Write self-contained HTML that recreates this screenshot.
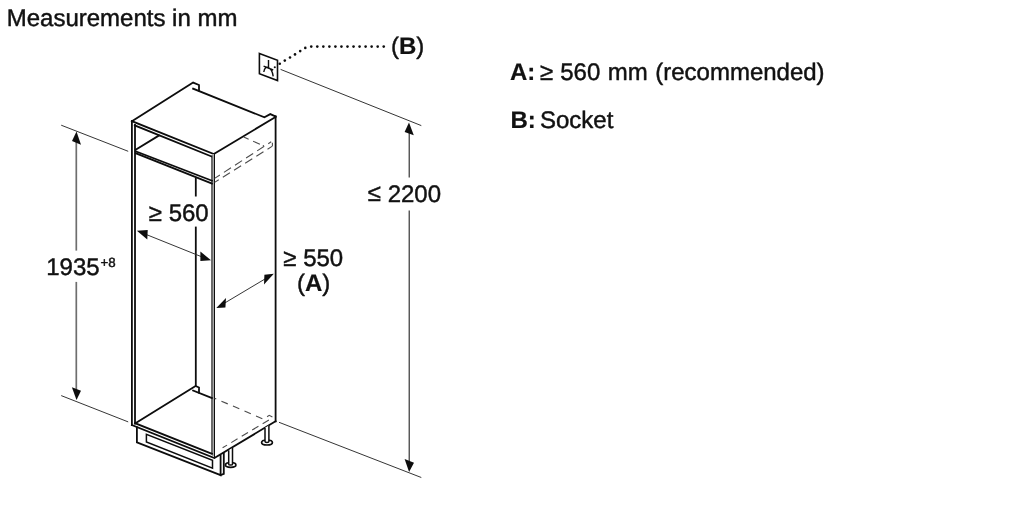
<!DOCTYPE html>
<html><head><meta charset="utf-8"><title>Measurements in mm</title>
<style>
html,body{margin:0;padding:0;background:#fff;}
body{width:1024px;height:512px;overflow:hidden;position:relative;}
svg{will-change:transform;position:absolute;left:0;top:0;display:block;}
text{text-rendering:geometricPrecision;font-family:"Liberation Sans",Arial,Helvetica,sans-serif;font-size:24px;fill:#111;stroke:#111;stroke-width:0.45px;stroke-linejoin:round;}
.b{font-weight:bold;stroke-width:0.2px;}
.m{stroke:#0d0d0d;stroke-width:1.8;fill:none;stroke-linecap:square;stroke-linejoin:miter;}
.t{stroke:#2a2a2a;stroke-width:0.95;fill:none;}
.v{stroke:#6e6e6e;stroke-width:1.7;fill:none;}
.d{stroke:#4c4c4c;stroke-width:1.1;fill:none;}
.a{fill:#0d0d0d;stroke:none;}
</style></head>
<body>
<svg width="1024" height="512" viewBox="0 0 1024 512">
<rect width="1024" height="512" fill="#fff"/>

<!-- texts -->
<text x="6.7" y="25.8">Measurements in mm</text>
<text x="510" y="80.2"><tspan class="b">A:</tspan><tspan dx="-1.9"> ≥</tspan><tspan dx="0.3"> 560</tspan><tspan dx="0.85"> mm</tspan><tspan dx="0.75"> (recommended)</tspan></text>
<text x="510.4" y="127.9"><tspan class="b">B:</tspan><tspan dx="-2.4"> Socket</tspan></text>
<text x="391" y="53.8">(<tspan class="b">B</tspan>)</text>
<text x="367.8" y="202"><tspan dy="-0.9">≤</tspan><tspan dy="0.9"> 2200</tspan></text>
<text x="148.8" y="221.2">≥ 560</text>
<text x="283.3" y="265.5">≥ 550</text>
<text x="296.9" y="290.8">(<tspan class="b">A</tspan>)</text>
<text x="46.2" y="274.8">1935<tspan font-size="13.3" dy="-7.9" dx="0.8">+8</tspan></text>

<!-- dimension 1935 -->
<g id="dimL">
<line class="t" x1="61.2" y1="125.2" x2="128.2" y2="151.3"/>
<line class="t" x1="61.2" y1="395.6" x2="128.2" y2="421.9"/>
<line class="v" x1="76.3" y1="140" x2="76.3" y2="250.6"/>
<line class="v" x1="76.3" y1="281.9" x2="76.3" y2="390"/>
<polygon class="a" points="76.5,131.5 72,141 81,144.8"/>
<polygon class="a" points="76.5,400 71.9,387.2 81,390.7"/>
</g>

<!-- dimension 2200 -->
<g id="dimR">
<line class="t" x1="280.6" y1="69.4" x2="421.3" y2="125.6"/>
<line class="t" x1="279" y1="422.3" x2="421.3" y2="477.5"/>
<line class="t" style="stroke-width:1.1;stroke:#222" x1="409.2" y1="132" x2="409.2" y2="177.5"/>
<line class="t" style="stroke-width:1.1;stroke:#222" x1="409.2" y1="210.6" x2="409.2" y2="461"/>
<polygon class="a" points="409,122.5 404.6,131.9 413.8,135.3"/>
<polygon class="a" points="409.1,471.9 404.6,459 414,462.8"/>
</g>

<!-- socket -->
<g id="socket">
<polygon class="m" style="stroke-width:1.6" points="259.4,53.5 277.5,60.3 277.5,80.6 259.4,73.8"/>
<path class="m" style="stroke-width:1.4;stroke-linecap:butt" d="M268.5,60 L268.5,67.6 M263.6,66.2 L273.2,70 M263.8,72 C264.5,67.5 266.5,66.6 268.5,67.6 C270.8,68.6 272.6,72 273.2,76.3"/>
<circle class="a" cx="274.8" cy="67.2" r="1.05"/>
<g fill="#0d0d0d"><circle cx="279.75" cy="63.75" r="1.3"/><circle cx="284.80" cy="60.60" r="1.3"/><circle cx="290.00" cy="57.50" r="1.3"/><circle cx="295.00" cy="54.40" r="1.3"/><circle cx="300.20" cy="51.10" r="1.3"/><circle cx="305.30" cy="47.90" r="1.3"/><circle cx="311.25" cy="46.60" r="1.3"/><circle cx="317.29" cy="46.60" r="1.3"/><circle cx="323.33" cy="46.60" r="1.3"/><circle cx="329.37" cy="46.60" r="1.3"/><circle cx="335.41" cy="46.60" r="1.3"/><circle cx="341.45" cy="46.60" r="1.3"/><circle cx="347.49" cy="46.60" r="1.3"/><circle cx="353.53" cy="46.60" r="1.3"/><circle cx="359.57" cy="46.60" r="1.3"/><circle cx="365.61" cy="46.60" r="1.3"/><circle cx="371.65" cy="46.60" r="1.3"/><circle cx="377.69" cy="46.60" r="1.3"/><circle cx="383.73" cy="46.60" r="1.3"/></g>
</g>

<!-- cabinet -->
<g id="cab">
<!-- top -->
<path class="m" d="M131.9,121.2 L193.1,82.6 L199,85 L199,90.6"/>
<path class="m" d="M193.1,88.7 L264.4,117.3 L270.3,114.1 L275.6,116.5"/>
<path class="m" d="M131.9,121.2 L213.8,154.1 L275.6,116.9"/>
<path class="m" d="M134.8,125.4 L211.4,156.4"/>
<!-- left verticals -->
<path class="m" d="M131.9,121.2 L131.9,425"/>
<path class="m" d="M135,125 L135,423.3"/>
<!-- right front vertical (double) -->
<path d="M213.15,154 L213.15,456" stroke="#a8a8a8" stroke-width="2.4" fill="none"/>
<path class="m" style="stroke-width:1" d="M211.9,156 L211.9,453.8"/>
<path class="m" style="stroke-width:1" d="M214.5,154 L214.5,458"/>
<!-- right back vertical -->
<path class="m" d="M275.6,116.5 L275.6,421.3"/>
<!-- shelf -->
<path class="m" d="M135.6,149.8 L158.8,135.6"/>
<path class="m" d="M135.6,151.3 L211.9,180.7"/>
<path class="m" d="M135.6,153.2 L211.9,183.5"/>
<!-- back inner vertical -->
<path class="m" d="M195.8,178.8 L195.8,195.6"/>
<path class="m" d="M195.8,227.5 L195.8,386"/>
<!-- floor -->
<path class="m" d="M135,423.4 L195.6,386 L199,387.5 L199,392.6"/>
<path class="m" d="M193.1,390.6 L211.9,398.1"/>
<!-- bottom edges -->
<path class="m" d="M131.9,425 L214.4,458.1 L275.6,421.3"/>
<path class="m" d="M135,423.2 L211.9,453.8"/>
<!-- plinth -->
<path class="m" d="M136.9,427.5 L136.9,442.3 L220.6,475.2 L220.6,456 "/>
<path class="m" d="M220.6,475 L223.8,473.8 L223.8,453.5"/>
<path class="m" style="stroke-width:1.5" d="M146.4,434.3 L146.4,442 L212.5,468.1 L212.5,460.2 Z"/>
<!-- legs -->
<g class="m" style="stroke-width:1.5;stroke-linecap:butt">
<ellipse cx="230.7" cy="465" rx="5.2" ry="2.3" fill="#fff" style="stroke-width:1.7"/>
<path d="M228.7,450.3 L228.7,464.2 A1.9,0.9 0 0 0 232.5,464.2 L232.5,448" fill="#fff"/>
<ellipse cx="267" cy="442.5" rx="5.4" ry="2.5" fill="#fff" style="stroke-width:1.7"/>
<path d="M265,427.8 L265,441.6 A1.95,0.9 0 0 0 268.9,441.6 L268.9,425.5" fill="#fff"/>
</g>
<!-- dashed hidden lines -->
<path class="d" stroke-dasharray="8.4 4.8" stroke-dashoffset="2.1" d="M214.6,178.4 L271.2,141.8"/>
<path class="d" stroke-dasharray="8.4 4.8" stroke-dashoffset="3.5" d="M214.6,182.4 L272.4,146.1"/>
<path class="d" stroke-dasharray="none" d="M272.4,142.8 L272.4,146.1"/>
<path class="d" stroke-dasharray="5.4 4.9 7.4 3.2 3 9" d="M243.7,137.1 L264,146"/>
<path class="d" stroke-dasharray="6.9 5.65" stroke-dashoffset="5.1" d="M214.6,398.2 L262.4,418.8"/>
<path class="d" stroke-dasharray="7.3 4.9" d="M268.9,420 L222.6,447.8"/>
<path class="d" d="M267.1,416.7 L269.2,415.3 L272.4,417"/>
</g>

<!-- arrows -->
<g id="arrows">
<line class="t" x1="140" y1="232" x2="206" y2="258.5"/>
<polygon class="a" points="136.9,230.7 147.7,230.1 147.3,239.4"/>
<polygon class="a" points="211,260.3 200.4,251.5 200.4,261"/>
<line class="t" x1="220" y1="305.8" x2="270" y2="276"/>
<polygon class="a" points="216.3,308.1 226,297.9 225.4,307.6"/>
<polygon class="a" points="273.8,273.8 264.4,274.8 264,284.4"/>
</g>
</svg>
</body></html>
